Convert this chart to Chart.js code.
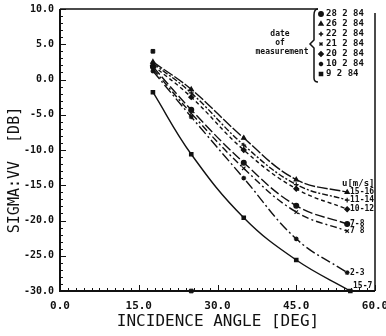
<!DOCTYPE html>
<html>
<head>
<meta charset="utf-8">
<script src="https://cdn.jsdelivr.net/npm/chart.js@4"></script>
<style>
  html, body { margin: 0; padding: 0; background: #fff; }
  #wrap { width: 386px; height: 336px; position: relative; }
</style>
</head>
<body>
<div id="wrap"><canvas id="sigma-chart" width="386" height="336"></canvas></div>
<script>
// Incidence angles of the fitted points (deg)
const angles = [17.7, 25, 35, 45, 54.7];
const lowAngles = [17.7, 25, 35, 45, 55.3];

// sigma VV (dB) per wind speed class
const sigma1516 = [2.5, -1.4, -8.3, -14.2, -16.0];
const sigma1114 = [2.3, -1.9, -9.3, -14.9, -17.1];
const sigma1012 = [2.0, -2.5, -10.0, -15.5, -18.4];
const sigma78a = [1.8, -4.3, -11.8, -17.9, -20.5];
const sigma78b = [1.5, -4.8, -12.6, -18.8, -21.5];
const sigma23 = [1.2, -5.3, -14.0, -22.6, -27.4];
const sigma152 = [-1.8, -10.6, -19.6, -25.6, -30.0];

// single points off the curves
const extraAngles = [17.7, 25];
const extraSigma = [4.0, -30.0];

const speedLabels = ['15-16', '11-14', '10-12', '7-8', '7 8', '2-3', '15-7'];
const dateLabels = ['28 2 84', '26 2 84', '22 2 84', '21 2 84', '20 2 84', '10 2 84', '9 2 84'];
const dateMarkers = ['circle', 'triangle', 'cross', 'crossRot', 'rectRot', 'star', 'rect'];

const xTicks = [0, 15, 30, 45, 60];
const yTicks = [10, 5, 0, -5, -10, -15, -20, -25, -30];

const INK = '#111';
const MONO = '"DejaVu Sans Mono", monospace';

function toPoints(xs, ys) {
  return xs.map((x, i) => ({ x: x, y: ys[i] }));
}

function curve(label, xs, ys, dash, marker) {
  return {
    label: label,
    data: toPoints(xs, ys),
    borderColor: INK,
    backgroundColor: INK,
    borderWidth: 1.4,
    borderDash: dash,
    pointStyle: marker,
    pointRadius: 2.4,
    pointBorderWidth: 1.2,
    tension: 0.4,
    fill: false
  };
}

const datasets = [
  curve(speedLabels[0], angles, sigma1516, [11, 2], 'triangle'),
  curve(speedLabels[1], angles, sigma1114, [6, 2, 2, 2], 'cross'),
  curve(speedLabels[2], angles, sigma1012, [4, 3], 'rectRot'),
  curve(speedLabels[3], angles, sigma78a, [10, 3], 'circle'),
  curve(speedLabels[4], angles, sigma78b, [7, 3, 2, 3], 'crossRot'),
  curve(speedLabels[5], angles, sigma23, [10, 3, 2, 3], 'star'),
  curve(speedLabels[6], lowAngles, sigma152, [], 'rect'),
  {
    label: 'extra',
    data: toPoints(extraAngles, extraSigma),
    showLine: false,
    pointStyle: 'rect',
    pointRadius: 2.6,
    backgroundColor: INK,
    borderColor: INK
  }
];

// Frame, inside ticks, titles, date key and speed labels
const decorPlugin = {
  id: 'decor',
  afterDraw(chart) {
    const { ctx, chartArea: a, scales } = chart;
    const xs = scales.x, ys = scales.y;
    ctx.save();
    ctx.strokeStyle = INK;
    ctx.fillStyle = INK;

    // axes frame
    ctx.lineWidth = 2;
    ctx.beginPath();
    ctx.moveTo(a.left, a.top);
    ctx.lineTo(a.left, a.bottom);
    ctx.lineTo(a.right, a.bottom);
    ctx.stroke();
    ctx.lineWidth = 1.5;
    ctx.beginPath();
    ctx.moveTo(a.left, a.top);
    ctx.lineTo(318, a.top);
    ctx.moveTo(a.right, a.top + 4);
    ctx.lineTo(a.right, a.bottom);
    ctx.stroke();

    // inside ticks
    ctx.lineWidth = 1;
    ctx.beginPath();
    for (let v = 0; v <= 60.01; v += 1.5) {
      const px = Math.round(xs.getPixelForValue(v)) + 0.5;
      const len = Math.abs(v % 15) < 0.01 ? 6 : 3;
      ctx.moveTo(px, a.bottom);
      ctx.lineTo(px, a.bottom - len);
    }
    for (let v = -30; v <= 10; v += 1) {
      const py = Math.round(ys.getPixelForValue(v)) + 0.5;
      const len = v % 5 === 0 ? 6 : 3;
      ctx.moveTo(a.left, py);
      ctx.lineTo(a.left + len, py);
    }
    ctx.stroke();

    // axis titles
    ctx.font = '16px ' + MONO;
    ctx.textAlign = 'center';
    ctx.textBaseline = 'middle';
    ctx.fillText('INCIDENCE ANGLE [DEG]', 218, 322);
    ctx.font = '15px ' + MONO;
    ctx.save();
    ctx.translate(15, 170);
    ctx.rotate(-Math.PI / 2);
    ctx.fillText('SIGMA:VV  [DB]', 0, 0);
    ctx.restore();

    // date of measurement key with brace
    ctx.lineWidth = 1.5;
    ctx.beginPath();
    ctx.moveTo(318, a.top);
    ctx.quadraticCurveTo(314, a.top, 314, a.top + 6);
    ctx.lineTo(314, 40);
    ctx.lineTo(310, 44);
    ctx.lineTo(314, 48);
    ctx.lineTo(314, 78);
    ctx.quadraticCurveTo(314, 82, 318, 82);
    ctx.stroke();
    ctx.font = 'bold 8px ' + MONO;
    ctx.textAlign = 'center';
    ctx.fillText('date', 280, 34);
    ctx.fillText('of', 280, 43);
    ctx.fillText('measurement', 282, 52);
    ctx.font = 'bold 9px ' + MONO;
    ctx.textAlign = 'left';
    dateLabels.forEach((d, i) => {
      const y = 14 + i * 10;
      Chart.helpers.drawPoint(ctx, { pointStyle: dateMarkers[i], radius: 2.2, borderWidth: 1.2 }, 321, y);
      if (dateMarkers[i] === 'circle' || dateMarkers[i] === 'triangle' || dateMarkers[i] === 'rect' || dateMarkers[i] === 'rectRot') ctx.fill();
      ctx.fillText(d, 326, y);
    });

    // wind speed labels at the curve ends
    ctx.font = 'bold 9px ' + MONO;
    ctx.textAlign = 'left';
    ctx.fillText('u[m/s]', 342, ys.getPixelForValue(sigma1516[4]) - 9);
    ctx.font = 'bold 8px ' + MONO;
    for (let i = 0; i < 7; i++) {
      const meta = chart.getDatasetMeta(i);
      const last = meta.data[meta.data.length - 1];
      const y = i === 6 ? last.y - 5 : last.y;
      ctx.fillText(speedLabels[i], i === 6 ? 353 : 350, y);
    }
    ctx.restore();
  }
};

const ctx = document.getElementById('sigma-chart');
new Chart(ctx, {
  type: 'line',
  data: { datasets: datasets },
  options: {
    responsive: false,
    animation: false,
    clip: false,
    layout: { padding: { top: 9, right: 11, left: 0, bottom: 0 } },
    plugins: {
      legend: { display: false },
      tooltip: { enabled: false }
    },
    scales: {
      x: {
        type: 'linear',
        min: 0,
        max: 60,
        afterBuildTicks: (scale) => { scale.ticks = xTicks.map(v => ({ value: v })); },
        afterFit: (scale) => {
          scale.height = 45;
          scale.paddingLeft = 0;
          scale.paddingRight = 0;
        },
        grid: { display: false, drawTicks: false },
        border: { display: false },
        ticks: {
          color: INK,
          padding: 9,
          maxRotation: 0,
          font: { family: MONO, size: 11, weight: 'bold' },
          callback: (v) => v.toFixed(1)
        }
      },
      y: {
        type: 'linear',
        min: -30,
        max: 10,
        afterBuildTicks: (scale) => { scale.ticks = yTicks.map(v => ({ value: v })); },
        afterFit: (scale) => {
          scale.width = 60;
          scale.paddingTop = 0;
          scale.paddingBottom = 0;
        },
        grid: { display: false, drawTicks: false },
        border: { display: false },
        ticks: {
          color: INK,
          padding: 6,
          font: { family: MONO, size: 10, weight: 'bold' },
          callback: (v) => v.toFixed(1)
        }
      }
    }
  },
  plugins: [decorPlugin]
});
</script>
</body>
</html>
